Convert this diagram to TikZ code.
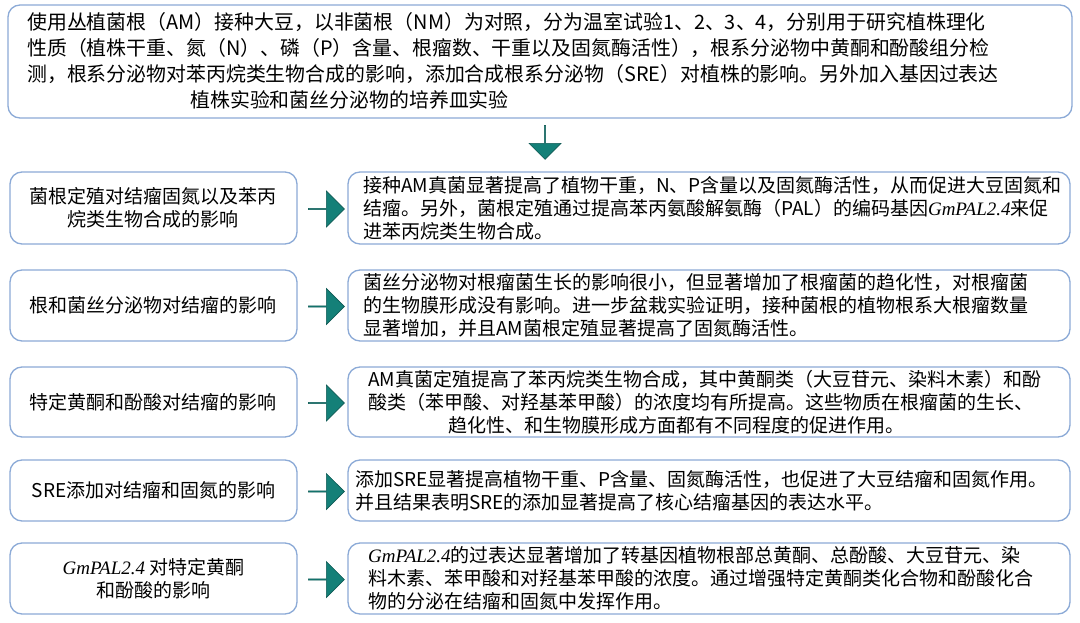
\documentclass[tikz,border=0pt]{standalone}
\usepackage{fontspec}
\setmainfont{Noto Sans CJK SC}
\newfontfamily\lat{Liberation Serif}
\newcommand{\gm}{{\lat\itshape GmPAL2.4}}
\usetikzlibrary{shapes.arrows}
\definecolor{bd}{RGB}{140,170,215}
\definecolor{tl}{RGB}{20,128,120}
\definecolor{tld}{RGB}{15,90,85}
\tikzset{
 box/.style={draw=bd,line width=1.3pt,rounded corners=12pt},
 txt/.style={anchor=west,align=left,font=\fontsize{19}{23}\selectfont,inner sep=0pt},
 ltxt/.style={anchor=center,align=center,font=\fontsize{19}{23}\selectfont,inner sep=0pt},
 rarr/.style={single arrow,draw=tld,fill=tl,line width=0.6pt,minimum width=36pt,single arrow head extend=8pt,minimum height=36pt,inner sep=0pt,anchor=center},
}
\begin{document}
\begin{tikzpicture}[x=1pt,y=-1pt]
\useasboundingbox (0,0) rectangle (1080,623);
\fill[white] (0,0) rectangle (1080,623);
% top
\draw[box] (8,5) rectangle (1072,118);
\node[txt,font=\fontsize{19.9}{26}\selectfont] (top) at (27,61) {使用丛植菌根（AM）接种大豆，以非菌根（NM）为对照，分为温室试验1、2、3、4，分别用于研究植株理化\\性质（植株干重、氮（N）、磷（P）含量、根瘤数、干重以及固氮酶活性），根系分泌物中黄酮和酚酸组分检\\测，根系分泌物对苯丙烷类生物合成的影响，添加合成根系分泌物（SRE）对植株的影响。另外加入基因过表达\\\hspace*{8.2em}植株实验和菌丝分泌物的培养皿实验};
\node[rarr,shape border rotate=270,minimum height=34pt,minimum width=32pt,single arrow head extend=7pt] (down) at (545,142) {};
% rows
\foreach \i/\ya/\yb in {1/172/244,2/270/341,3/367/437,4/460/521,5/543/614}{
  \draw[box] (10,\ya) rectangle (297,\yb);
  \draw[box] (348,\ya) rectangle (1070,\yb);
  \node[rarr] (a\i) at (326,{(\ya+\yb)/2+1}) {};
}
\node[ltxt] (l1) at (153.5,208) {菌根定殖对结瘤固氮以及苯丙\\烷类生物合成的影响};
\node[ltxt] (l2) at (153.5,305.5) {根和菌丝分泌物对结瘤的影响};
\node[ltxt] (l3) at (153.5,402) {特定黄酮和酚酸对结瘤的影响};
\node[ltxt] (l4) at (153.5,490.5) {SRE添加对结瘤和固氮的影响};
\node[ltxt] (l5) at (153.5,578.5) {\gm{} 对特定黄酮\\和酚酸的影响};
\node[txt] (r1) at (363,208) {接种AM真菌显著提高了植物干重，N、P含量以及固氮酶活性，从而促进大豆固氮和\\结瘤。另外，菌根定殖通过提高苯丙氨酸解氨酶（PAL）的编码基因\gm 来促\\进苯丙烷类生物合成。};
\node[txt] (r2) at (363,305.5) {菌丝分泌物对根瘤菌生长的影响很小，但显著增加了根瘤菌的趋化性，对根瘤菌\\的生物膜形成没有影响。进一步盆栽实验证明，接种菌根的植物根系大根瘤数量\\显著增加，并且AM菌根定殖显著提高了固氮酶活性。};
\node[txt] (r3) at (368,402) {AM真菌定殖提高了苯丙烷类生物合成，其中黄酮类（大豆苷元、染料木素）和酚\\酸类（苯甲酸、对羟基苯甲酸）的浓度均有所提高。这些物质在根瘤菌的生长、\\\hspace*{4.2em}趋化性、和生物膜形成方面都有不同程度的促进作用。};
\node[txt] (r4) at (355,490.5) {添加SRE显著提高植物干重、P含量、固氮酶活性，也促进了大豆结瘤和固氮作用。\\并且结果表明SRE的添加显著提高了核心结瘤基因的表达水平。};
\node[txt] (r5) at (368,578.5) {\gm 的过表达显著增加了转基因植物根部总黄酮、总酚酸、大豆苷元、染\\料木素、苯甲酸和对羟基苯甲酸的浓度。通过增强特定黄酮类化合物和酚酸化合\\物的分泌在结瘤和固氮中发挥作用。};
\end{tikzpicture}
\end{document}
